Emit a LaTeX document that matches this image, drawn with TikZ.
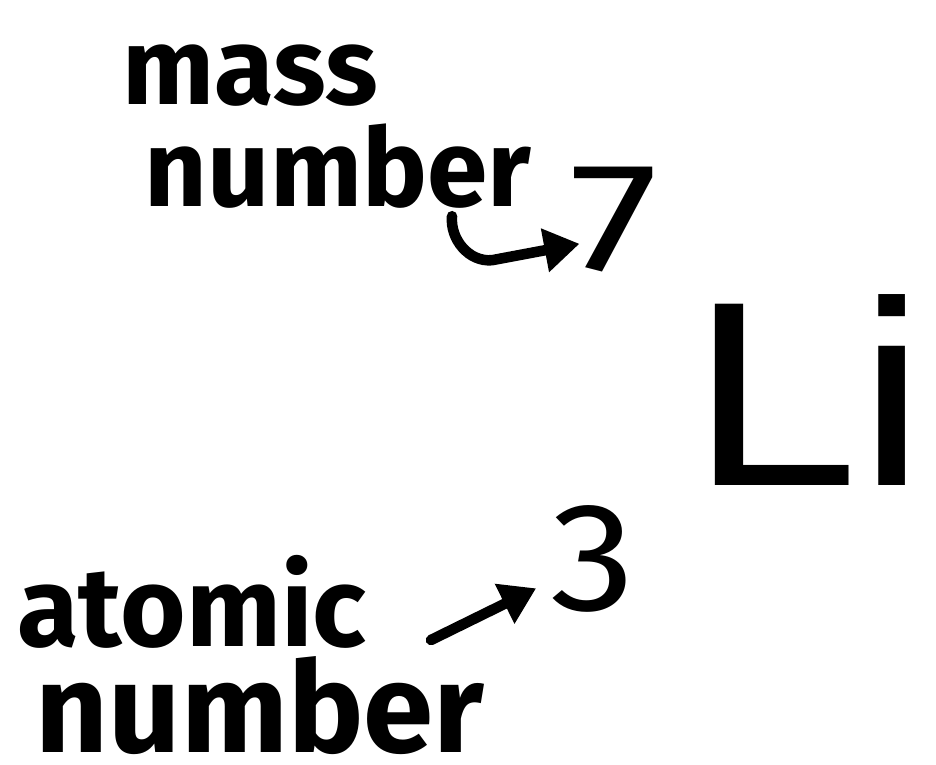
\documentclass[tikz,border=0pt]{standalone}
\usepackage{fontspec}
\newfontfamily\handfont{Fira Sans}
\newfontfamily\elemfont{Liberation Sans}
\usetikzlibrary{arrows.meta, positioning, calc}

\begin{document}
\begin{tikzpicture}[
    x=0.02cm, y=-0.02cm,
    label/.style={inner sep=0pt, anchor=base, font=\handfont\bfseries\fontsize{62}{62}\selectfont},
    digit/.style={inner sep=0pt, anchor=base, transform shape, font=\handfont\fontsize{88}{88}\selectfont},
    pointer/.style={-{Triangle[length=20pt, width=24pt]}, line width=6pt, line cap=round}
  ]
    % Frame
    \useasboundingbox[fill=white] (0,0) rectangle (936,764);

    % Labels (top)
    \node[label] (mass) at (250,104) {mass};
    \node[label] (numtop) at (338,206) {number};

    % Symbol
    \node[digit, xscale=1.3] (seven) at (614,270) {7};
    \node[inner sep=0pt, anchor=base west, xscale=1.15, transform shape, font=\elemfont\fontsize{150}{150}\selectfont] (symbol) at (690,485) {Li};
    \node[digit, xscale=1.1] (three) at (593,610) {3};

    % Labels (bottom)
    \node[label, font=\handfont\bfseries\fontsize{64}{64}\selectfont] (atomic) at (192,646) {atomic};
    \node[label, font=\handfont\bfseries\fontsize{72}{72}\selectfont] (numbot) at (260,752) {number};

    % Connections
    \coordinate (hook) at ($(numtop.south)+(114,8)$);
    \draw[pointer] (hook) to[out=-95, in=185, looseness=1] ($(hook)+(40,44)$) -- ([xshift=6pt, yshift=16pt]seven.south west);
    \draw[pointer] ($(atomic.base east)+(64,-6)$) -- ([xshift=-8pt, yshift=-17pt]three.west);

  \end{tikzpicture}
\end{document}
